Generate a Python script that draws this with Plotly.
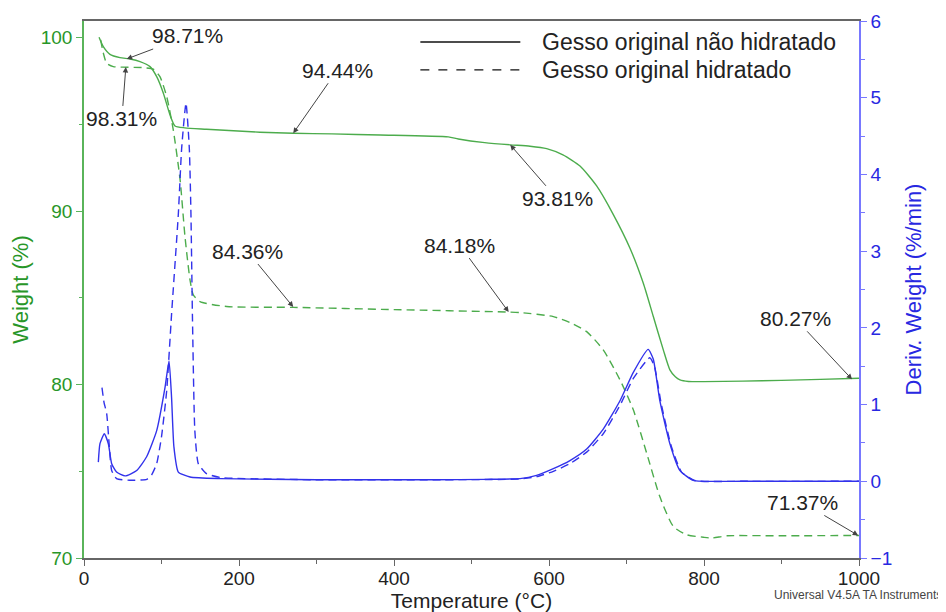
import plotly.graph_objects as go

# ---------------- data ----------------
# Weight (%) - Gesso original não hidratado (solid green)
temp_nh = [19.4, 24.9, 33.5, 46.4, 59.4, 72.3, 85.2, 93.8, 102.4, 111, 117.4, 130, 158, 227, 270, 320,
           382, 470, 483, 517, 550, 575.5, 597, 618, 640, 661.5, 683, 704.5, 721.7, 734.6, 747.5, 756,
           763, 769, 780, 800, 850, 900, 950, 1000]
weight_nh = [100.02, 99.48, 99.04, 98.85, 98.77, 98.62, 98.33, 97.75, 96.8, 95.54, 94.91, 94.8, 94.72,
             94.55, 94.49, 94.45, 94.39, 94.28, 94.16, 93.95, 93.82, 93.74, 93.6, 93.24, 92.6, 91.45,
             89.8, 87.86, 85.84, 83.92, 82.0, 80.85, 80.45, 80.27, 80.18, 80.17, 80.2, 80.24, 80.3, 80.36]

# Weight (%) - Gesso original hidratado (dashed green)
temp_h = [21.5, 25, 29.3, 37.8, 50, 76.5, 89.4, 98, 106.7, 115.2, 124, 130.3, 136.8, 141, 149.7, 184,
          270, 400, 548, 562.6, 605.6, 627, 648.6, 670, 691.6, 708.8, 726, 743, 760.4, 777.6, 799, 810,
          830, 900, 1000]
weight_h = [99.87, 99.1, 98.52, 98.33, 98.3, 98.27, 98.18, 97.75, 96.6, 94.68, 91.8, 88.53, 86.03, 85.17,
            84.78, 84.5, 84.45, 84.32, 84.18, 84.15, 83.92, 83.57, 83.05, 82.0, 80.27, 78.54, 76.05, 73.54,
            71.82, 71.34, 71.2, 71.15, 71.28, 71.28, 71.3]

# Deriv. Weight (%/min) - não hidratado (solid blue)
temp_dnh = [18.5, 20.6, 26.2, 31.4, 35.7, 42, 53, 68, 80.8, 93.8, 104.5, 109.7, 113, 116, 121.7, 136.8,
            175.5, 300, 450, 520, 562.6, 584, 605.6, 627, 648.6, 670, 691.6, 708.8, 728, 734.6, 743, 756,
            769, 786, 850, 1000]
deriv_nh = [0.25, 0.49, 0.62, 0.49, 0.23, 0.12, 0.07, 0.14, 0.32, 0.66, 1.22, 1.57, 1.09, 0.45, 0.12,
            0.056, 0.035, 0.02, 0.02, 0.025, 0.035, 0.078, 0.165, 0.27, 0.42, 0.68, 1.05, 1.42, 1.72,
            1.59, 1.05, 0.49, 0.14, 0.013, 0.0, 0.0]

# Deriv. Weight (%/min) - hidratado (dashed blue)
temp_dh = [23.2, 25.8, 29.3, 32.7, 35.7, 42, 59, 81, 87, 93.8, 100, 106.7, 113, 121.7, 126, 131.6, 135.9,
           138, 140, 143, 147.5, 158, 175.5, 300, 450, 562.6, 584, 605.6, 627, 648.6, 670, 691.6, 708.8,
           730, 736, 745, 758, 771, 788, 850, 1000]
deriv_h = [1.22, 1.03, 0.88, 0.45, 0.14, 0.035, 0.013, 0.026, 0.08, 0.23, 0.58, 1.18, 2.18, 3.48, 4.34,
           4.93, 4.34, 3.48, 2.1, 0.66, 0.23, 0.1, 0.05, 0.02, 0.02, 0.03, 0.06, 0.13, 0.23, 0.38, 0.62,
           0.99, 1.34, 1.61, 1.5, 1.0, 0.45, 0.12, 0.01, 0.0, 0.0]

# annotations: label, temperature, weight, text offset (px)
ann_labels = ["98.71%", "98.31%", "94.44%", "93.81%", "84.36%", "84.18%", "80.27%", "71.37%"]
ann_temp = [55, 54, 270, 550, 270, 548, 991, 999]
ann_weight = [98.77, 98.31, 94.49, 93.82, 84.47, 84.18, 80.3, 71.3]
ann_dx = [61, -4, 44, 47, -46, -49, -57, -56]
ann_dy = [-23, 52, -63, 54, -56, -67, -61, -33]

legend_labels = ["Gesso original não hidratado", "Gesso original hidratado"]

# ---------------- styling ----------------
GREEN = "rgb(76,172,76)"
GREEN_TXT = "rgb(40,150,40)"
GREEN_AX = "rgb(90,180,90)"
BLUE = "rgb(50,50,235)"
BLUE_TXT = "rgb(40,40,225)"
BLUE_AX = "rgb(120,120,255)"
FONT = "Arial, Liberation Sans, sans-serif"

fig = go.Figure()
fig.add_trace(go.Scatter(x=temp_nh, y=weight_nh, mode="lines", name=legend_labels[0],
                         line=dict(color=GREEN, width=1.4, shape="spline", smoothing=0.6), yaxis="y"))
fig.add_trace(go.Scatter(x=temp_h, y=weight_h, mode="lines", name=legend_labels[1],
                         line=dict(color=GREEN, width=1.4, dash="8px,5px", shape="spline", smoothing=0.6),
                         yaxis="y"))
fig.add_trace(go.Scatter(x=temp_dnh, y=deriv_nh, mode="lines", showlegend=False,
                         line=dict(color=BLUE, width=1.4, shape="spline", smoothing=0.5), yaxis="y2"))
fig.add_trace(go.Scatter(x=temp_dh, y=deriv_h, mode="lines", showlegend=False,
                         line=dict(color=BLUE, width=1.4, dash="8px,5px", shape="spline", smoothing=0.5),
                         yaxis="y2"))

annotations = []
for lab, tx, wy, dx, dy in zip(ann_labels, ann_temp, ann_weight, ann_dx, ann_dy):
    annotations.append(dict(x=tx, y=wy, xref="x", yref="y", text=lab, showarrow=True,
                            ax=dx, ay=dy, arrowhead=2, arrowsize=1.1, arrowwidth=1,
                            arrowcolor="#444", font=dict(size=21, color="#222", family=FONT)))

# legend drawn manually (long line samples like the reference)
leg_x0, leg_x1, leg_tx = 0.434, 0.563, 0.589
leg_ys = [0.961, 0.909]
shapes = []
for yy, dash in zip(leg_ys, ["solid", "dash"]):
    shapes.append(dict(type="line", xref="paper", yref="paper", x0=leg_x0, x1=leg_x1, y0=yy, y1=yy,
                       line=dict(color="#111", width=1.4, dash=dash)))
for yy, lab in zip(leg_ys, legend_labels):
    annotations.append(dict(x=leg_tx, y=yy, xref="paper", yref="paper", text=lab, showarrow=False,
                            xanchor="left", yanchor="middle", font=dict(size=23, color="#222", family=FONT)))

annotations.append(dict(x=1.0, y=0, xref="paper", yref="paper", text="Universal V4.5A TA Instruments",
                        showarrow=False, xanchor="right", yanchor="middle", xshift=85, yshift=-37,
                        font=dict(size=12, color="#444", family=FONT)))

# the page body adds an 8 px offset, so the figure is sized/margined to compensate
fig.update_layout(
    width=938, height=604,
    margin=dict(l=76, r=87, t=13, b=54, autoexpand=False),
    paper_bgcolor="white", plot_bgcolor="white",
    showlegend=False,
    font=dict(family=FONT),
    xaxis=dict(range=[0, 1000], dtick=200, tick0=0, showgrid=False, zeroline=False, automargin=False,
               showline=True, linecolor="#666", linewidth=1.5, mirror=True,
               ticks="outside", ticklen=6, tickcolor="#666", ticklabelstandoff=-4,
               minor=dict(dtick=100, ticks="outside", ticklen=4, tickcolor="#666"),
               tickfont=dict(size=19, color="#222"),
               title=dict(text="Temperature (°C)", font=dict(size=21, color="#222"), standoff=9)),
    yaxis=dict(range=[70, 100.96], dtick=10, tick0=70, showgrid=False, zeroline=False, automargin=False,
               showline=True, linecolor=GREEN_AX, linewidth=1.5,
               ticks="outside", ticklen=6, tickcolor=GREEN_AX,
               minor=dict(dtick=5, ticks="outside", ticklen=3, tickcolor=GREEN_AX),
               tickfont=dict(size=19, color=GREEN_TXT),
               title=dict(text="Weight (%)", font=dict(size=22, color=GREEN_TXT), standoff=10)),
    yaxis2=dict(range=[-1, 6], dtick=1, tick0=0, overlaying="y", side="right", showgrid=False,
                zeroline=False, showline=True, linecolor=BLUE_AX, linewidth=1.5, automargin=False,
                ticks="outside", ticklen=6, tickcolor=BLUE_AX,
                minor=dict(dtick=0.5, ticks="outside", ticklen=4, tickcolor=BLUE_AX),
                tickfont=dict(size=19, color=BLUE_TXT),
                title=dict(text="Deriv. Weight (%/min)", font=dict(size=22, color=BLUE_TXT), standoff=14)),
    shapes=shapes,
    annotations=annotations,
)

fig.write_html("out.html")
